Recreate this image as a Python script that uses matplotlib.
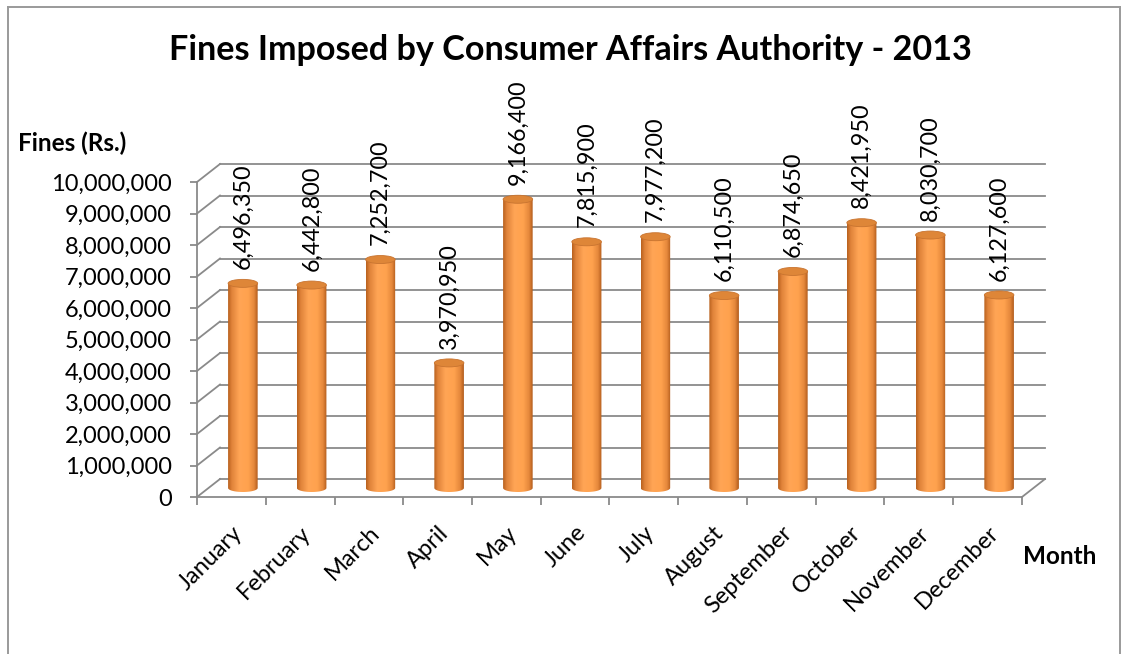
import matplotlib
matplotlib.use('Agg')
import matplotlib.pyplot as plt
import numpy as np
from matplotlib.patches import Ellipse, PathPatch
from matplotlib.path import Path
from matplotlib.colors import LinearSegmentedColormap

months = ['January', 'February', 'March', 'April', 'May', 'June', 'July',
          'August', 'September', 'October', 'November', 'December']
fines = [6496350, 6442800, 7252700, 3970950, 9166400, 7815900, 7977200,
         6110500, 6874650, 8421950, 8030700, 6127600]
y_ticks = list(range(0, 10_000_001, 1_000_000))
title = 'Fines Imposed by Consumer Affairs Authority - 2013'
y_title = 'Fines (Rs.)'
x_title = 'Month'

plt.rcParams['font.family'] = ['Lato', 'DejaVu Sans']

W, H = 1131, 654
fig = plt.figure(figsize=(W / 100, H / 100), dpi=100)
ax = fig.add_axes([197 / W, 1 - 497 / H, 825 / W, 315 / H])

GRID = '#8a8a8a'
LW = 1.3
n = len(months)
ymax = y_ticks[-1]
px_per_val = 315 / ymax
DX = 23 / (825 / n)          # depth offset in category units
DY = 18 / px_per_val          # depth offset in value units
EH = 8 / px_per_val           # ellipse height in value units
HW = 0.215                    # half width of cylinder (category units)

# back wall gridlines and side wall diagonals
for v in y_ticks:
    ax.plot([DX, n + DX], [v + DY, v + DY], color=GRID, lw=LW, clip_on=False, zorder=1)
    ax.plot([0, DX], [v, v + DY], color=GRID, lw=LW, clip_on=False, zorder=1)
ax.plot([n, n + DX], [0, DY], color=GRID, lw=LW, clip_on=False, zorder=1)

cmap = LinearSegmentedColormap.from_list('cyl', [
    (0.0, '#b9621f'), (0.12, '#e0833a'), (0.38, '#ffa555'),
    (0.68, '#ffa24e'), (0.88, '#e4873b'), (1.0, '#b25c1c')])
grad = np.linspace(0, 1, 64).reshape(1, -1)

for i, v in enumerate(fines):
    cx = i + 0.5 + DX / 2
    base = DY / 2
    top = v + DY / 2
    t = np.linspace(np.pi, 2 * np.pi, 40)
    arc = np.column_stack([cx + HW * np.cos(t), base + EH / 2 * np.sin(t)])
    verts = np.vstack([[[cx - HW, top]], arc, [[cx + HW, top]], [[cx - HW, top]]])
    codes = [Path.MOVETO] + [Path.LINETO] * (len(verts) - 2) + [Path.CLOSEPOLY]
    body = PathPatch(Path(verts, codes), facecolor='none', edgecolor='none',
                     clip_on=False, zorder=3)
    ax.add_patch(body)
    im = ax.imshow(grad, cmap=cmap, aspect='auto', interpolation='bilinear',
                   extent=[cx - HW, cx + HW, base - EH / 2, top], zorder=3)
    im.set_clip_path(body)
    ax.add_patch(Ellipse((cx, top), 2 * HW, EH, facecolor='#de8638',
                         edgecolor='#c87430', lw=0.6, clip_on=False, zorder=4))
    ax.text(cx, top + EH / 2 + 0.33e6, f'{v:,}', rotation=90, ha='center',
            va='bottom', fontsize=16.8, color='black', zorder=5)

ax.set_xlim(0, n)
ax.set_ylim(0, ymax)
for s in ['top', 'right']:
    ax.spines[s].set_visible(False)
for s in ['left', 'bottom']:
    ax.spines[s].set_color(GRID)
    ax.spines[s].set_linewidth(LW)

ax.set_yticks(y_ticks, labels=[f'{v:,}' for v in y_ticks])
ax.tick_params(axis='y', length=5, width=LW, color=GRID, labelsize=17, pad=13)
ax.set_xticks(np.arange(n + 1), labels=[])
ax.tick_params(axis='x', which='major', length=6, width=LW, color=GRID)
ax.set_xticks(np.arange(n) + 0.5, labels=months, minor=True)
ax.tick_params(axis='x', which='minor', length=0, labelsize=17, pad=18)
for lab in ax.get_xticklabels(minor=True):
    lab.set_rotation(45)
    lab.set_ha('right')
    lab.set_va('top')
    lab.set_rotation_mode('anchor')

fig.text(570 / W, 1 - 50 / H, title, ha='center', va='center',
         fontsize=24.6, fontweight='bold')
fig.text(18 / W, 1 - 143 / H, y_title, ha='left', va='center',
         fontsize=17.5, fontweight='bold')
fig.text(1023 / W, 1 - 557 / H, x_title, ha='left', va='center',
         fontsize=17.5, fontweight='bold')

# chart border
BC = '#9a9a9a'
fig.add_artist(plt.Line2D([8 / W, 8 / W], [0, 1 - 7 / H], color=BC, lw=1.4,
                          transform=fig.transFigure))
fig.add_artist(plt.Line2D([8 / W, 1120 / W], [1 - 7 / H, 1 - 7 / H], color=BC, lw=1.4,
                          transform=fig.transFigure))
fig.add_artist(plt.Line2D([1120 / W, 1120 / W], [0, 1 - 7 / H], color=BC, lw=1.4,
                          transform=fig.transFigure))

fig.savefig('out.png', dpi=100)
